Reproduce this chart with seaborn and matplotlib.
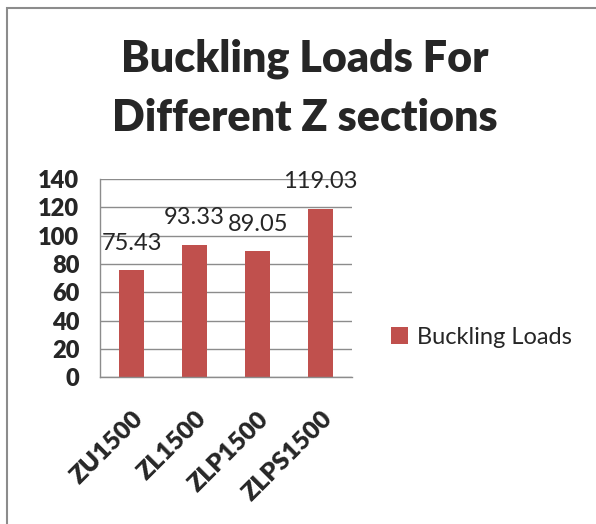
import numpy as np
import pandas as pd
import seaborn as sns
import matplotlib.pyplot as plt
from matplotlib.patches import Rectangle

# values
sections = ['ZU1500', 'ZL1500', 'ZLP1500', 'ZLPS1500']
buckling_loads = [75.43, 93.33, 89.05, 119.03]
series_name = 'Buckling Loads'
y_ticks = [0, 20, 40, 60, 80, 100, 120, 140]

bar_color = '#C0504D'
grid_color = '#8C8C8C'

sns.set_style('white')
plt.rcParams['font.family'] = ['Lato', 'DejaVu Sans']

df = pd.DataFrame({'section': sections, 'load': buckling_loads,
                   'series': [series_name] * len(sections)})

fig = plt.figure(figsize=(5.96, 5.24), dpi=100)
ax = fig.add_axes([0.168, 0.2805, 0.423, 0.3775])

sns.barplot(data=df, x='section', y='load', hue='series', palette=[bar_color],
            width=0.4, saturation=1, ax=ax, edgecolor='none')

ax.set_ylim(0, 140)
ax.set_xlim(-0.5, len(sections) - 0.5)
ax.set_yticks(y_ticks)
ax.set_yticklabels([str(t) for t in y_ticks], fontsize=17, fontweight='heavy')
ax.yaxis.grid(True, color=grid_color, linewidth=1)
ax.set_axisbelow(True)
ax.set_xlabel('')
ax.set_ylabel('')

# category labels, rotated like the original
ax.set_xticks(range(len(sections)))
ax.set_xticklabels(sections, rotation=45, ha='right', rotation_mode='anchor',
                   fontsize=18, fontweight='heavy')
ax.tick_params(axis='x', which='major', length=0, pad=22)
ax.set_xticks(np.arange(-0.5, len(sections)), minor=True)
ax.tick_params(axis='x', which='minor', length=6, color=grid_color, width=1, direction='out')
ax.tick_params(axis='y', length=6, color=grid_color, width=1, direction='out', pad=9)

for side in ['top', 'right']:
    ax.spines[side].set_visible(False)
for side in ['left', 'bottom']:
    ax.spines[side].set_color(grid_color)
    ax.spines[side].set_linewidth(1)

# data labels above bars
for i, v in enumerate(buckling_loads):
    ax.annotate(f'{v:.2f}', (i, v), xytext=(0, 12), textcoords='offset points',
                ha='center', va='bottom', fontsize=17)

leg = ax.legend(loc='center left', bbox_to_anchor=(1.07, 0.2), frameon=False,
                fontsize=17, handlelength=0.7, handleheight=0.7, handletextpad=0.4)

fig.text(0.512, 0.888, 'Buckling Loads For', ha='center', va='center',
         fontsize=31, fontweight='heavy')
fig.text(0.512, 0.775, 'Different Z sections', ha='center', va='center',
         fontsize=31, fontweight='heavy')

# chart frame, cut off on the right and bottom like the reference
fig.add_artist(Rectangle((7 / 596, -0.1), 1.2, 1.1 - 8 / 524, transform=fig.transFigure,
                         fill=False, edgecolor='#8C8C8C', linewidth=1.5))

fig.savefig('out.png', dpi=100)
